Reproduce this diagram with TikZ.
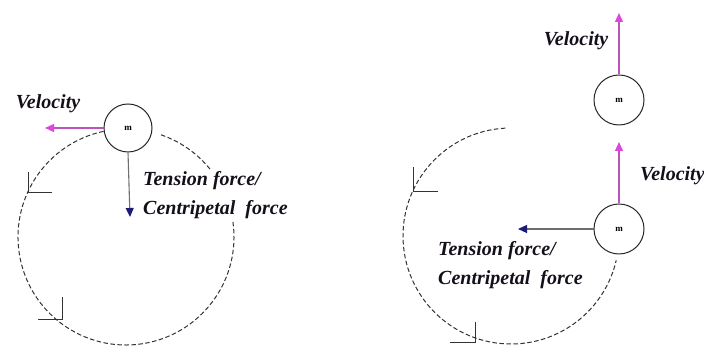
\documentclass[tikz,border=0pt]{standalone}
\usepackage{fontspec}
\setmainfont{Liberation Serif}
\usetikzlibrary{arrows.meta}
\definecolor{velc}{RGB}{222,70,222}
\definecolor{tenc}{RGB}{28,28,120}
\definecolor{linec}{RGB}{110,110,110}
\definecolor{txtc}{RGB}{20,15,25}
\tikzset{
  ball/.style={circle,draw=black!85,line width=1pt,fill=white,minimum size=#1,inner sep=0pt,font=\fontsize{9}{9}\selectfont\bfseries},
  orbit/.style={draw=black!80,line width=1pt,dash pattern=on 4.5pt off 2.5pt},
  velarrow/.style={draw=velc!70!linec,line width=1.1pt,-{Triangle[length=9pt,width=8pt,fill=velc,color=velc]}},
  tenarrow/.style={draw=linec,line width=1.1pt,-{Triangle[length=9pt,width=8pt,fill=tenc,color=tenc]}},
  lbl/.style={font=\fontsize{20}{29}\selectfont\itshape\bfseries,text=txtc,inner sep=0pt},
  tickmark/.style={draw=black!80,line width=1pt}
}
\begin{document}
\begin{tikzpicture}[x=1pt,y=1pt]
\useasboundingbox (0,0) rectangle (704,352);
% ---------- left figure ----------
\draw[orbit] (126,115) ++(102:108) arc[start angle=102,end angle=368,radius=108];
\draw[orbit] (126,115) ++(39:108) arc[start angle=39,end angle=72,radius=108];
\draw[tickmark] (28,180) -- (28,159) -- (52,159);
\draw[tickmark] (62,55) -- (62,32) -- (38,32);
\node[ball=48pt] (b1) at (128,224) {m};
\coordinate (v1) at (45,224);
\coordinate (t1) at (130,135);
\draw[velarrow] (b1.west) -- (v1);
\draw[tenarrow] (b1.south) -- (t1);
\node[lbl] (lv1) at (48,248) {Velocity};
\node[lbl,anchor=west,align=left] (lt1) at (143,157) {Tension force/\\Centripetal\ \ force};
% ---------- right figure ----------
\draw[orbit] (511,116) ++(93:108) arc[start angle=93,end angle=347,radius=108];
\draw[tickmark] (413,185) -- (413,160) -- (438,160);
\draw[tickmark] (475,30) -- (475,9) -- (450,9);
\node[ball=50pt] (b2) at (619,252) {m};
\node[ball=50pt] (b3) at (619,123) {m};
\coordinate (v2) at (619,339);
\coordinate (v3) at (619,210);
\coordinate (t3) at (518,123);
\draw[velarrow] (b2.north) -- (v2);
\draw[velarrow] (b3.north) -- (v3);
\draw[tenarrow] (b3.west) -- (t3);
\node[lbl] (lv2) at (576,311) {Velocity};
\node[lbl,anchor=west] (lv3) at (640,176) {Velocity};
\node[lbl,anchor=west,align=left] (lt3) at (438,87) {Tension force/\\Centripetal\ \ force};
\end{tikzpicture}
\end{document}
